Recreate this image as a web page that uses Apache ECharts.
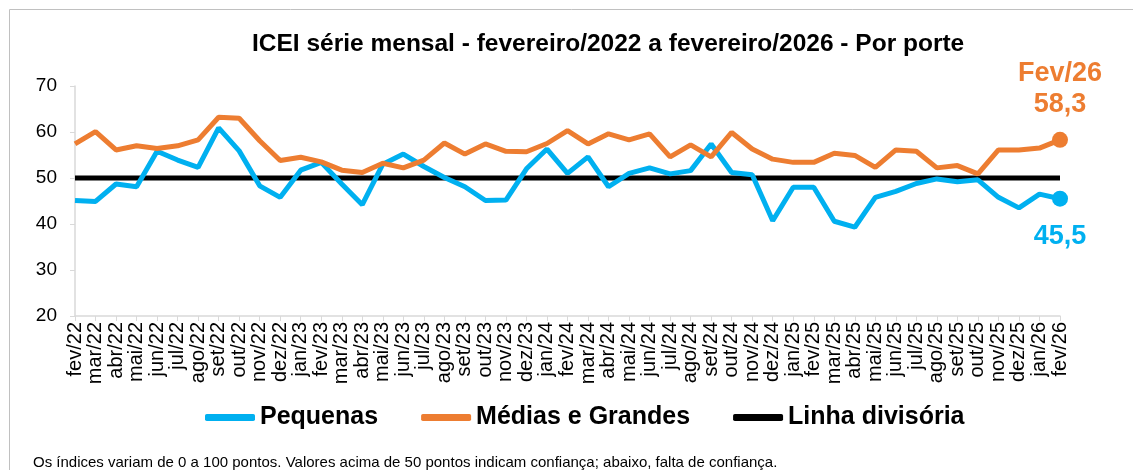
<!DOCTYPE html>
<html>
<head>
<meta charset="utf-8">
<script src="https://cdn.jsdelivr.net/npm/echarts@6/dist/echarts.min.js"></script>
<style>
html, body { margin: 0; padding: 0; background: #fff; }
#chart { width: 1133px; height: 470px; }
</style>
</head>
<body>
<div id="chart"></div>
<script>
/*
 * ICEI mensal por porte
 */
var meses = ['fev/22','mar/22','abr/22','mai/22','jun/22','jul/22','ago/22','set/22','out/22','nov/22','dez/22','jan/23',
	'fev/23','mar/23','abr/23','mai/23','jun/23','jul/23','ago/23','set/23','out/23','nov/23','dez/23','jan/24',
	'fev/24','mar/24','abr/24','mai/24','jun/24','jul/24','ago/24','set/24','out/24','nov/24','dez/24','jan/25',
	'fev/25','mar/25','abr/25','mai/25','jun/25','jul/25','ago/25','set/25','out/25','nov/25','dez/25','jan/26','fev/26'];

var pequenas = [45.1, 44.9, 48.7, 48.1, 55.8, 53.9, 52.3, 60.9, 55.9, 48.3, 45.8, 51.7,
	53.4, 48.7, 44.2, 53.0, 55.2, 52.5, 50.1, 48.1, 45.1, 45.2, 52.0, 56.3,
	51.0, 54.6, 48.1, 51.0, 52.2, 50.9, 51.6, 57.4, 51.2, 50.7, 40.7, 48.0,
	48.0, 40.6, 39.3, 45.8, 47.1, 48.8, 49.8, 49.2, 49.6, 45.8, 43.5, 46.5, 45.5];

var mediasGrandes = [57.4, 60.1, 56.1, 57.0, 56.4, 57.0, 58.3, 63.2, 63.0, 58.1, 53.8, 54.5,
	53.5, 51.7, 51.2, 53.2, 52.2, 53.9, 57.6, 55.2, 57.4, 55.8, 55.7, 57.5,
	60.3, 57.4, 59.6, 58.3, 59.6, 54.6, 57.2, 54.6, 59.9, 56.3, 54.1, 53.4,
	53.4, 55.4, 54.9, 52.3, 56.1, 55.8, 52.2, 52.7, 50.9, 56.1, 56.1, 56.5, 58.3];

var linha = [50, 50, 50, 50, 50, 50, 50, 50, 50, 50, 50, 50,
	50, 50, 50, 50, 50, 50, 50, 50, 50, 50, 50, 50,
	50, 50, 50, 50, 50, 50, 50, 50, 50, 50, 50, 50,
	50, 50, 50, 50, 50, 50, 50, 50, 50, 50, 50, 50, 50];

var eixoY = [20, 30, 40, 50, 60, 70];

var AZUL = '#00B0F0';
var LARANJA = '#ED7D31';
var FONTE = 'Liberation Sans, Arial, sans-serif';

// ultimo ponto com marcador e rotulo
function comUltimo(arr, label) {
	var out = arr.slice(0, arr.length - 1);
	out.push({ value: arr[arr.length - 1], label: label });
	return out;
}
var ultimo = meses.length - 1;
function tamanho(v, p) { return p.dataIndex === ultimo ? 16 : 0; }

var chart = echarts.init(document.getElementById('chart'));
chart.setOption({
	animation: false,
	textStyle: { fontFamily: FONTE },
	graphic: [{
		type: 'rect',
		shape: { x: 9.5, y: 9.5, width: 1200, height: 600 },
		style: { fill: 'none', stroke: '#c0c0c0', lineWidth: 1 },
		silent: true
	}],
	title: [{
		text: 'ICEI série mensal - fevereiro/2022 a fevereiro/2026 - Por porte',
		left: 247, top: 27,
		textStyle: { fontSize: 24.5, fontWeight: 'bold', color: '#000', fontFamily: FONTE }
	}, {
		text: 'Os índices variam de 0 a 100 pontos. Valores acima de 50 pontos indicam confiança; abaixo, falta de confiança.',
		left: 28, top: 450,
		textStyle: { fontSize: 15, fontWeight: 'normal', color: '#000', fontFamily: FONTE }
	}],
	legend: {
		left: 200, top: 400,
		itemWidth: 50, itemHeight: 7, itemGap: 43,
		icon: 'roundRect',
		textStyle: { fontSize: 25, fontWeight: 'bold', color: '#000', fontFamily: FONTE },
		data: ['Pequenas', 'Médias e Grandes', 'Linha divisória']
	},
	grid: { left: 75, right: 73, top: 86, bottom: 154 },
	xAxis: {
		type: 'category',
		boundaryGap: false,
		data: meses,
		axisLine: { lineStyle: { color: '#d9d9d9', width: 1.5 } },
		axisTick: { show: true, alignWithLabel: true, length: 5, lineStyle: { color: '#d9d9d9' } },
		axisLabel: { interval: 0, rotate: 90, fontSize: 20, color: '#000', margin: 6 }
	},
	yAxis: {
		type: 'value',
		min: eixoY[0], max: eixoY[eixoY.length - 1], interval: 10,
		axisLine: { show: true, lineStyle: { color: '#d9d9d9', width: 1.5 } },
		axisTick: { show: true, length: 5, lineStyle: { color: '#d9d9d9' } },
		splitLine: { show: false },
		axisLabel: { fontSize: 19, color: '#000', margin: 18 }
	},
	series: [{
		name: 'Linha divisória',
		type: 'line',
		data: linha,
		symbol: 'none',
		z: 1,
		lineStyle: { color: '#000', width: 5 },
		itemStyle: { color: '#000' }
	}, {
		name: 'Médias e Grandes',
		type: 'line',
		data: comUltimo(mediasGrandes, {
			show: true, position: 'top', distance: 12,
			formatter: 'Fev/26\n58,3',
			fontSize: 27, fontWeight: 'bold', lineHeight: 31, color: LARANJA
		}),
		symbol: 'circle',
		symbolSize: tamanho,
		z: 3,
		lineStyle: { color: LARANJA, width: 5 },
		itemStyle: { color: LARANJA }
	}, {
		name: 'Pequenas',
		type: 'line',
		data: comUltimo(pequenas, {
			show: true, position: 'bottom', distance: 16,
			formatter: '45,5',
			fontSize: 27, fontWeight: 'bold', color: AZUL
		}),
		symbol: 'circle',
		symbolSize: tamanho,
		z: 2,
		lineStyle: { color: AZUL, width: 5 },
		itemStyle: { color: AZUL }
	}]
});
</script>
</body>
</html>
